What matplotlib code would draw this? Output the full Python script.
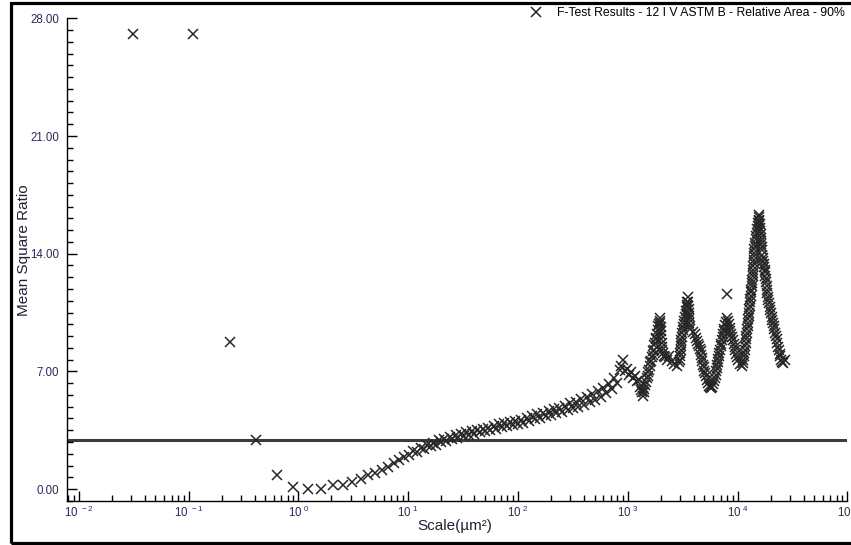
import matplotlib
matplotlib.use('Agg')
import math
import matplotlib.pyplot as pyplot
from matplotlib.ticker import FixedLocator, LogLocator, MultipleLocator, FuncFormatter, NullFormatter, FormatStrFormatter
from matplotlib.patches import Rectangle

pyplot.rcParams['font.family'] = ['Liberation Sans', 'DejaVu Sans']
pyplot.rcParams['mathtext.fontset'] = 'custom'
pyplot.rcParams['mathtext.rm'] = 'Liberation Sans'
pyplot.rcParams['mathtext.default'] = 'regular'

### Data: F-test mean square ratio vs. scale ###

# small scales, single points
sparse_scale = [0.031, 0.110, 0.241, 0.415, 0.645, 0.90, 1.23, 1.62, 2.07, 2.56,
                3.10, 3.69, 4.33, 5.02, 5.76, 6.55, 7.40, 8.29, 9.24, 10.2]
sparse_ratio = [27.05, 27.05, 8.74, 2.92, 0.83, 0.10, 0.0, 0.0, 0.22, 0.22,
                0.43, 0.61, 0.83, 0.97, 1.13, 1.33, 1.55, 1.75, 1.90, 2.05]

# 10 - 850 um^2, slow rise
band_scale = [11, 12, 13, 14, 15, 16, 17, 18, 19, 20, 21, 22, 24, 25, 27, 28, 30, 32, 34, 36,
              38, 40, 42, 45, 48, 50, 53, 56, 60, 63, 67, 71, 75, 80, 85, 90, 95, 100, 106, 112,
              120, 126, 134, 142, 150, 160, 170, 180, 190, 200, 212, 224, 238, 252, 267, 283, 300, 318, 336, 356,
              378, 400, 424, 450, 475, 504, 534, 566, 600, 635, 673, 713, 755, 800, 848]
band_ratio = [2.25, 2.20, 2.45, 2.40, 2.65, 2.55, 2.75, 2.65, 2.90, 2.80, 3.00, 2.85, 3.10, 2.95, 3.20, 3.05, 3.30, 3.15, 3.38, 3.22,
              3.45, 3.30, 3.50, 3.38, 3.60, 3.45, 3.66, 3.52, 3.75, 3.60, 3.85, 3.68, 3.92, 3.74, 3.98, 3.82, 4.05, 3.88, 4.12, 3.95,
              4.25, 4.05, 4.35, 4.15, 4.45, 4.25, 4.55, 4.35, 4.65, 4.42, 4.75, 4.50, 4.85, 4.60, 4.95, 4.70, 5.10, 4.82, 5.20, 4.90,
              5.35, 5.00, 5.45, 5.15, 5.65, 5.30, 5.85, 5.50, 6.00, 5.70, 6.25, 5.95, 6.60, 6.30, 7.10]

# 850 - 27000 um^2, oscillating part
peak_scale = [870, 905, 940, 975, 1020, 1070, 1117, 1160, 1210, 1260, 1294, 1320, 1350, 1377,
              1395, 1420, 1440, 1465, 1490, 1515, 1540, 1565, 1596,
              1610, 1640, 1660, 1690, 1705, 1730, 1750, 1773, 1790, 1820, 1850, 1888,
              1900, 1925, 1950, 1968, 1985, 1990, 2005, 2010, 2025, 2030, 2045, 2052,
              2090, 2140, 2186, 2290, 2400, 2531, 2650, 2812, 2900, 2993,
              3005, 3020, 3035, 3050, 3065, 3085, 3100, 3120, 3160, 3200, 3240, 3280, 3324,
              3360, 3400, 3430, 3470, 3500, 3540,
              3555, 3570, 3585, 3600, 3615, 3630, 3650, 3670, 3690, 3900, 4102,
              4180, 4270, 4360, 4450, 4550, 4610, 4670, 4730, 4790, 4850, 4920, 4990, 5058,
              5150, 5250, 5350, 5480, 5610, 5750, 5900,
              6000, 6100, 6200, 6300, 6400, 6480, 6550, 6620, 6700, 6770, 6840, 6918,
              7000, 7100, 7200, 7300, 7400, 7500, 7600, 7720, 7860, 8017, 8017,
              8150, 8300, 8450, 8600, 8750, 8920, 9099, 9250, 9400, 9570, 9740, 9920, 10100,
              10500, 10990, 11100, 11220, 11340, 11460, 11580, 11700, 11820, 11940, 12060, 12190,
              12280, 12370, 12460, 12550, 12640, 12730, 12820, 12910, 13000, 13100, 13190, 13280, 13370, 13460, 13550,
              13620, 13690, 13760, 13840, 13910, 13980, 14060, 14130, 14200, 14270, 14350, 14420,
              14580, 14740, 14900, 15060, 15220, 15380, 15540, 15600, 15700,
              15800, 15900, 16000, 16100, 16200, 16300, 16400, 16500, 16600, 16710,
              16860, 17010, 17160, 17310, 17470, 17620, 17780,
              17930, 18080, 18230, 18380, 18530, 18680, 18820, 18970,
              19260, 19550, 19840, 20130, 20420, 20730, 21040,
              21370, 21700, 22040, 22370, 22710, 23040, 23380,
              23790, 24200, 24600, 25010, 25420, 26200, 27100]
peak_ratio = [7.30, 7.67, 7.00, 7.15, 6.80, 6.95, 6.60, 6.75, 6.40, 6.50, 6.10, 5.90, 5.75, 5.55,
              5.80, 5.95, 6.20, 6.35, 6.60, 6.75, 6.95, 7.10, 7.30,
              7.55, 7.60, 7.85, 7.95, 8.20, 8.30, 8.55, 8.70, 8.95, 9.00, 9.25, 9.45,
              9.70, 9.80, 10.00, 10.20, 9.90, 9.65, 9.40, 9.15, 8.90, 8.70, 8.45, 8.25,
              8.10, 7.90, 7.85, 7.70, 7.90, 7.60, 7.45, 7.35, 7.55, 7.70,
              7.90, 8.10, 8.30, 8.50, 8.70, 8.85, 9.05, 9.30, 9.45, 9.65, 9.80, 10.00, 10.25,
              10.40, 10.60, 10.80, 10.95, 11.15, 11.40,
              11.10, 10.90, 10.70, 10.50, 10.30, 10.10, 9.90, 9.70, 9.50, 9.35, 9.20,
              9.00, 8.80, 8.65, 8.50, 8.35, 8.20, 8.00, 7.80, 7.60, 7.40, 7.25, 7.05, 6.90,
              6.70, 6.50, 6.30, 6.15, 6.05, 6.00, 6.10,
              6.25, 6.45, 6.60, 6.80, 7.00, 7.20, 7.40, 7.55, 7.75, 7.90, 8.10, 8.30,
              8.50, 8.65, 8.85, 9.05, 9.20, 9.40, 9.55, 9.75, 9.95, 10.20, 11.60,
              10.00, 9.80, 9.60, 9.40, 9.20, 9.05, 8.85, 8.65, 8.45, 8.25, 8.05, 7.85, 7.65,
              7.45, 7.30, 7.50, 7.70, 7.90, 8.10, 8.30, 8.50, 8.70, 8.90, 9.10, 9.30,
              9.50, 9.70, 9.90, 10.10, 10.30, 10.50, 10.70, 10.90, 11.10, 11.30, 11.50, 11.70, 11.85, 12.05, 12.25,
              12.45, 12.65, 12.85, 13.05, 13.25, 13.45, 13.65, 13.85, 14.05, 14.25, 14.45, 14.65,
              14.85, 15.05, 15.25, 15.45, 15.65, 15.85, 16.00, 16.30, 16.20,
              15.95, 15.75, 15.55, 15.35, 15.15, 14.95, 14.75, 14.55, 14.40, 14.20,
              13.95, 13.75, 13.55, 13.40, 13.20, 13.05, 12.90,
              12.70, 12.50, 12.30, 12.05, 11.85, 11.65, 11.45, 11.25,
              11.05, 10.85, 10.65, 10.45, 10.25, 10.05, 9.90,
              9.70, 9.50, 9.30, 9.10, 8.90, 8.70, 8.45,
              8.25, 8.05, 7.90, 7.70, 7.55, 7.50, 7.70]

f_critical = 2.92

x_decades = [-2, -1, 0, 1, 2, 3, 4, 5]
legend_label = 'F-Test Results - 12 I V ASTM B - Relative Area - 90%'

### Plot ###
figure = pyplot.figure(figsize=(8.51, 5.45), dpi=100)
ax = figure.add_axes([0.0791, 0.0807, 0.9166, 0.8857])

all_scale = sparse_scale + band_scale + peak_scale
all_ratio = sparse_ratio + band_ratio + peak_ratio

ax.axhline(f_critical, color='#3c3c3c', linewidth=2.2, zorder=1)
ax.plot(all_scale, all_ratio, ls='none', marker='x', ms=7.5, mew=1.1,
        color='#262626', label=legend_label, zorder=2)

ax.set_xscale('log')
ax.set_xlim(10 ** -2.104, 1e5)
ax.set_ylim(-0.71, 28)

# ticks
ax.xaxis.set_major_locator(FixedLocator([10.0 ** d for d in x_decades]))
ax.xaxis.set_major_formatter(FuncFormatter(lambda v, pos: r'$10^{\ %d}$' % round(math.log10(v))))
ax.xaxis.set_minor_locator(LogLocator(base=10, subs=range(2, 10), numticks=20))
ax.xaxis.set_minor_formatter(NullFormatter())
ax.yaxis.set_major_locator(MultipleLocator(7))
ax.yaxis.set_minor_locator(MultipleLocator(0.7))
ax.yaxis.set_major_formatter(FormatStrFormatter('%.2f'))

tick_color = '#2a2a5c'
ax.tick_params(which='both', direction='in', color='black', width=1, labelsize=8.3, labelcolor=tick_color)
ax.tick_params(which='major', length=7)
ax.tick_params(which='minor', length=4)
ax.tick_params(axis='y', pad=6)
ax.tick_params(axis='x', pad=3)

for side in ['top', 'right']:
    ax.spines[side].set_visible(False)
for side in ['left', 'bottom']:
    ax.spines[side].set_linewidth(1)
    ax.spines[side].set_color('black')

ax.set_xlabel('Scale(µm²)', fontsize=11, color='#222233', va='center')
ax.xaxis.set_label_coords(0.497, -0.052)
ax.set_ylabel('Mean Square Ratio', fontsize=11, color='#222233', va='center')
ax.yaxis.set_label_coords(-0.056, 0.52)

ax.legend(loc='upper right', bbox_to_anchor=(845 / 851, 1 - 7 / 545),
          bbox_transform=figure.transFigure, frameon=False, fontsize=8.8,
          handlelength=1, handletextpad=1.2, borderaxespad=0, borderpad=0)

# outer frame
figure.add_artist(Rectangle((10.5 / 851, 2.5 / 545), 1.05, 1 - 5.5 / 545,
                            transform=figure.transFigure, fill=False,
                            edgecolor='black', linewidth=2.3, clip_on=False))

figure.savefig('out.png', dpi=100)
